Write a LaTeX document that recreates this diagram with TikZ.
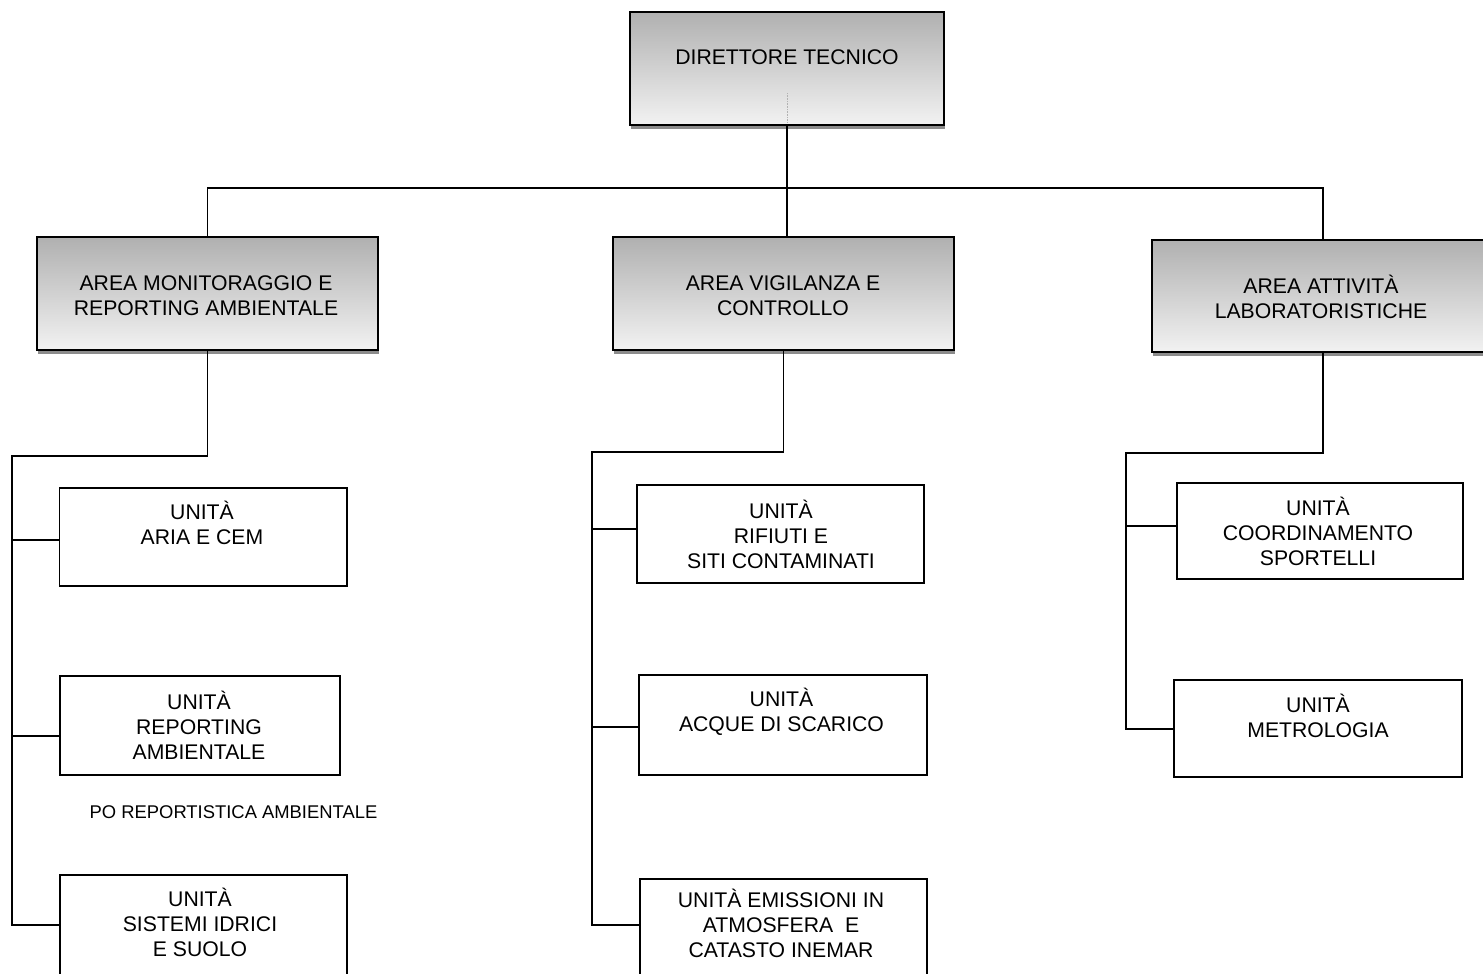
\documentclass[tikz,border=0pt]{standalone}
\usepackage{fontspec}
\setmainfont{Liberation Sans}
\usetikzlibrary{shadows}

\definecolor{shadeTop}{RGB}{176,176,176}
\definecolor{shadeBot}{RGB}{242,242,242}
\definecolor{shadowgray}{RGB}{140,140,140}

% one text row of fixed height, so blocks of rows stack evenly
\newcommand{\rowstrut}{\rule[-5pt]{0pt}{25pt}}

\begin{document}
\begin{tikzpicture}[x=1pt,y=-1pt,
  wire/.style={line width=1.8pt, black},
  boxbase/.style={rectangle, draw=black, line width=1.9pt, inner sep=0pt, outer sep=0pt},
  areabox/.style={boxbase, top color=shadeTop, bottom color=shadeBot,
    drop shadow={shadow xshift=1pt, shadow yshift=-3.5pt, fill=shadowgray, opacity=1}},
  unitbox/.style={boxbase, fill=white},
  boxtext/.style={font=\fontsize{21.2}{25}\selectfont, align=center, inner sep=0pt, outer sep=0pt},
  notetext/.style={font=\fontsize{18.4}{22}\selectfont, inner sep=0pt, anchor=base}]

\useasboundingbox (0,0) rectangle (1483,974);
\clip (0,0) rectangle (1483,974);

% ---- boxes ----
\node[areabox, minimum width=314pt, minimum height=113pt] (dir) at (787,68.5) {};
\node[areabox, minimum width=341pt, minimum height=113pt] (area1) at (207.5,293.5) {};
\node[areabox, minimum width=341pt, minimum height=113pt] (area2) at (783.5,293.5) {};
\node[areabox, minimum width=342pt, minimum height=112pt] (area3) at (1323,296) {};

\node[unitbox, minimum width=287.5pt, minimum height=98pt] (ua) at (203.25,537) {};
\node[unitbox, minimum width=280pt, minimum height=99pt] (ub) at (200,725.5) {};
\node[unitbox, minimum width=287pt, minimum height=110pt] (uc) at (203.5,930) {};

\node[unitbox, minimum width=287pt, minimum height=98pt] (va) at (780.5,534) {};
\node[unitbox, minimum width=288pt, minimum height=100pt] (vb) at (783,725) {};
\node[unitbox, minimum width=287pt, minimum height=110pt] (vc) at (783.5,934) {};

\node[unitbox, minimum width=286pt, minimum height=96pt] (la) at (1320,531) {};
\node[unitbox, minimum width=288pt, minimum height=97pt] (lb) at (1318,728.5) {};

% ---- texts ----
\node[boxtext] (tdir) at (787,56.5) {\rowstrut DIRETTORE TECNICO};
\node[boxtext] (tarea1) at (206,295) {\rowstrut AREA MONITORAGGIO E\\\rowstrut REPORTING AMBIENTALE};
\node[boxtext] (tarea2) at (783,295) {\rowstrut AREA VIGILANZA E\\\rowstrut CONTROLLO};
\node[boxtext] (tarea3) at (1321,298) {\rowstrut AREA ATTIVITÀ\\\rowstrut LABORATORISTICHE};

\node[boxtext] (tua) at (202,524) {\rowstrut UNITÀ\\\rowstrut ARIA E CEM};
\node[boxtext] (tub) at (199,726.5) {\rowstrut UNITÀ\\\rowstrut REPORTING\\\rowstrut AMBIENTALE};
\node[notetext] (tpo) at (233.5,818) {PO REPORTISTICA AMBIENTALE};
\node[boxtext] (tuc) at (200,923.5) {\rowstrut UNITÀ\\\rowstrut SISTEMI IDRICI\\\rowstrut E SUOLO};

\node[boxtext] (tva) at (781,535.5) {\rowstrut UNITÀ\\\rowstrut RIFIUTI E\\\rowstrut SITI CONTAMINATI};
\node[boxtext] (tvb) at (781.5,711) {\rowstrut UNITÀ\\\rowstrut ACQUE DI SCARICO};
\node[boxtext] (tvc) at (781,924.5) {\rowstrut UNITÀ EMISSIONI IN\\\rowstrut ATMOSFERA\ \ E\\\rowstrut CATASTO INEMAR};

\node[boxtext] (tla) at (1318,532.5) {\rowstrut UNITÀ\\\rowstrut COORDINAMENTO\\\rowstrut SPORTELLI};
\node[boxtext] (tlb) at (1318,717) {\rowstrut UNITÀ\\\rowstrut METROLOGIA};

% faint dotted stub inside the top box
\draw[densely dotted, gray!60, line width=0.6pt] ([yshift=32pt]dir.south) -- ([yshift=3pt]dir.south);

% ---- connectors: top level ----
\coordinate (hub) at (787,188);
\draw[wire] (dir.south) -- (area2.north -| dir.south);
\draw[wire] (area1.north) |- (hub) -| (area3.north);

% ---- left column ----
\coordinate (lk1) at (12,456);
\coordinate (lb1) at (12,540);
\coordinate (lb2) at (12,736);
\coordinate (lb3) at (12,925);
\draw[wire] (area1.south) -- (area1.south |- lk1) -- (lk1) -- (lb3) -- (uc.west |- lb3);
\draw[wire] (lb1) -- (ua.west |- lb1);
\draw[wire] (lb2) -- (ub.west |- lb2);

% ---- middle column ----
\coordinate (mk1) at (592,452);
\coordinate (mb1) at (592,529);
\coordinate (mb2) at (592,727);
\coordinate (mb3) at (592,925);
\draw[wire] (area2.south) -- (area2.south |- mk1) -- (mk1) -- (mb3) -- (vc.west |- mb3);
\draw[wire] (mb1) -- (va.west |- mb1);
\draw[wire] (mb2) -- (vb.west |- mb2);

% ---- right column ----
\coordinate (rk1) at (1126,453);
\coordinate (rb1) at (1126,526);
\coordinate (rb2) at (1126,729);
\draw[wire] (area3.south) -- (area3.south |- rk1) -- (rk1) -- (rb2) -- (lb.west |- rb2);
\draw[wire] (rb1) -- (la.west |- rb1);

\end{tikzpicture}
\end{document}
